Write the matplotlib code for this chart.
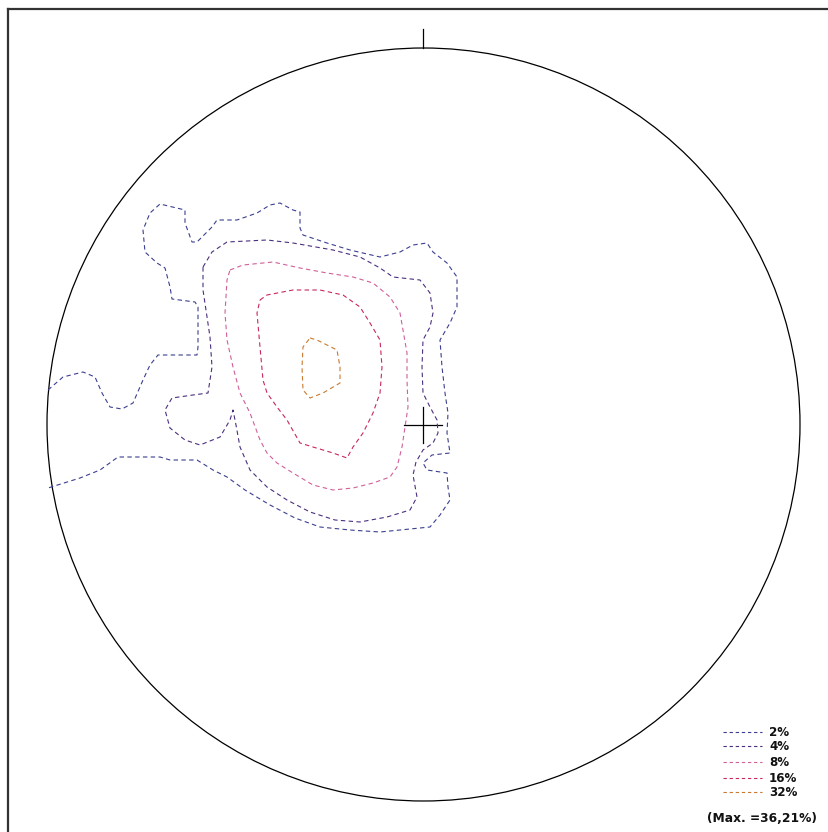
# Stereonet contour diagram (pole density)
import matplotlib
matplotlib.use('Agg')
import matplotlib.pyplot as plt
from matplotlib.patches import Circle

# Image-like coordinates (pixels, y downwards)
centre = (423.5, 424.5)
radius = 376.5

# Contour outlines
c2 = [(48, 390), (63, 377), (83, 372), (95, 377), (102, 393), (110, 407), (122, 409), (133, 403),
      (143, 380), (150, 365), (158, 355), (197, 355), (198, 347), (198, 307), (195, 302), (172, 299),
      (170, 287), (165, 268), (157, 263), (145, 252), (143, 230), (150, 213), (160, 204), (185, 210),
      (185, 223), (192, 242), (197, 242), (212, 227), (217, 220), (237, 220), (257, 213), (270, 205),
      (280, 203), (293, 210), (300, 212), (300, 228), (303, 235), (327, 243), (350, 250), (380, 257),
      (400, 252), (413, 245), (427, 243), (433, 252), (447, 263), (457, 277), (457, 307), (450, 323),
      (440, 340), (442, 367), (445, 393), (448, 413), (447, 433), (450, 453), (432, 455), (423, 463),
      (427, 470), (447, 473), (448, 487), (450, 500), (440, 515), (430, 527), (400, 530), (380, 532),
      (350, 530), (320, 527), (295, 518), (270, 505), (245, 490), (227, 477), (213, 470), (197, 460),
      (170, 460), (160, 457), (118, 457), (100, 470), (80, 478), (48, 488)]
c4 = [(203, 267), (212, 252), (227, 242), (267, 240), (293, 243), (333, 250), (360, 257), (380, 268),
      (393, 277), (420, 280), (430, 293), (433, 313), (430, 327), (423, 340), (422, 367), (423, 393),
      (430, 407), (437, 420), (438, 433), (433, 443), (423, 450), (416, 462), (413, 475), (417, 497),
      (410, 510), (387, 517), (360, 522), (335, 520), (310, 512), (287, 500), (267, 487), (250, 470),
      (240, 447), (236, 425), (233, 410), (230, 420), (220, 437), (200, 445), (185, 440), (170, 428),
      (165, 410), (172, 398), (193, 395), (208, 393), (212, 367), (210, 337), (203, 290), (203, 267)]
c8 = [(230, 270), (243, 265), (273, 262), (300, 268), (327, 273), (353, 277), (373, 283), (390, 297),
      (400, 313), (403, 330), (407, 353), (407, 380), (408, 407), (405, 427), (402, 447), (397, 467),
      (390, 477), (373, 483), (353, 488), (333, 490), (313, 485), (293, 473), (277, 463), (267, 453),
      (260, 440), (250, 413), (240, 393), (233, 367), (227, 340), (225, 313), (227, 280), (230, 270)]
c16 = [(260, 300), (267, 295), (293, 290), (320, 290), (343, 295), (360, 307), (370, 323), (380, 340),
       (382, 367), (380, 393), (373, 413), (363, 433), (353, 447), (347, 458), (333, 453), (313, 447),
       (300, 443), (287, 420), (277, 407), (267, 393), (263, 380), (260, 347), (257, 313), (260, 300)]
c32 = [(310, 338), (317, 340), (337, 350), (340, 367), (340, 383), (323, 393), (310, 398), (303, 390),
       (302, 367), (303, 347), (310, 338)]

contours = [c2, c4, c8, c16, c32]
niveis = ['2%', '4%', '8%', '16%', '32%']
cores = ['#3b3f8f', '#4b2f7f', '#d0609a', '#c8285a', '#c87a30']
maximo = '(Max. =36,21%)'

fig = plt.figure(figsize=(8.29, 8.32), dpi=100)
ax = fig.add_axes([0, 0, 1, 1])
ax.set_xlim(0, 829)
ax.set_ylim(832, 0)
ax.axis('off')

# moldura (só topo e esquerda aparecem)
ax.plot([8, 829], [9, 9], color='#333333', lw=1.6)
ax.plot([8, 8], [9, 832], color='#333333', lw=1.6)

# círculo primitivo, norte e centro
ax.add_patch(Circle(centre, radius, fill=False, color='k', lw=0.9))
ax.plot([centre[0], centre[0]], [29, centre[1] - radius], color='k', lw=0.9)
ax.plot([centre[0] - 19, centre[0] + 19], [centre[1], centre[1]], color='k', lw=0.9)
ax.plot([centre[0], centre[0]], [centre[1] - 18, centre[1] + 18], color='k', lw=0.9)

for pts, cor in zip(contours, cores):
    xs = [p[0] for p in pts]
    ys = [p[1] for p in pts]
    ax.plot(xs, ys, color=cor, lw=0.8, linestyle=(0, (4, 3)))

# legenda
ly = [732, 746, 762, 778, 792]
for y, txt, cor in zip(ly, niveis, cores):
    ax.plot([723, 762], [y, y], color=cor, lw=0.8, linestyle=(0, (3, 2.5)))
    ax.text(769, y, txt, fontsize=8.6, fontweight='bold', va='center', ha='left', color='#111111')
ax.text(707, 818, maximo, fontsize=8.8, fontweight='bold', va='center', ha='left', color='#111111')

fig.savefig('out.png', dpi=100)
